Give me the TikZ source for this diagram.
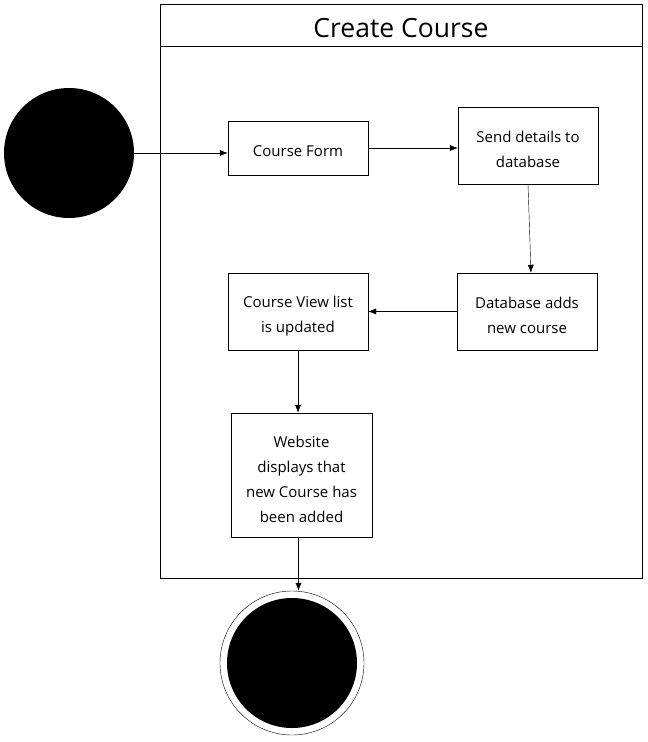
\documentclass[tikz,border=0pt]{standalone}
\usepackage{fontspec}
\setmainfont{Open Sans}
\usetikzlibrary{arrows.meta}
\newcommand{\topgap}{\rule{0pt}{20pt}}
\begin{document}
\begin{tikzpicture}[x=1pt, y=-1pt, every node/.style={font=\fontsize{15}{25}\selectfont}]
    \tikzstyle{marrs}=[-{Latex[length=8pt,width=6pt]}]
    \tikzstyle{box}=[draw, align=center, inner sep=0pt]
    \useasboundingbox (0,0) rectangle (648,742);

    % swimlane frame
    \draw (160,4) rectangle (642,578);
    \draw (160,46) -- (642,46);
    \node (title) at (401,28) {\fontsize{26.5}{30}\selectfont Create Course};

    \node[circle, fill, minimum size=130pt, inner sep=0pt] (start) at (69,153) {};

    \node[box, minimum width=140pt, minimum height=54pt] (form) at (298,148) {\rule{0pt}{17pt}Course Form};
    \node[box, minimum width=140pt, minimum height=77pt] (send) at (528,145.5) {\topgap Send details to\\database};
    \node[box, minimum width=140pt, minimum height=77pt] (dbadd) at (527,311.5) {\topgap Database adds\\new course};
    \node[box, minimum width=140pt, minimum height=77pt] (viewlist) at (298,311.5) {\topgap Course View list\\is updated};
    \node[box, minimum width=141pt, minimum height=124pt] (website) at (301.5,475) {\topgap Website\\displays that\\new Course has\\been added};

    \node[circle, draw, minimum size=144pt, inner sep=0pt] (finish) at (292,663) {};
    \node[circle, fill, minimum size=130pt, inner sep=0pt] (finishdot) at (finish) {};

    \draw[marrs] (start.east) -- (start.east -| form.west);
    \draw[marrs] (form.east) -- (form.east -| send.west);
    \draw[marrs] (send.south) -- ([xshift=4pt]dbadd.north);
    \draw[marrs] (dbadd.west) -- (viewlist.east);
    \draw[marrs] (viewlist.south) -- (viewlist.south |- website.north);
    \draw[marrs] ([xshift=-3pt]website.south) -- ([xshift=-3pt]website.south |- finish.north);
\end{tikzpicture}
\end{document}
